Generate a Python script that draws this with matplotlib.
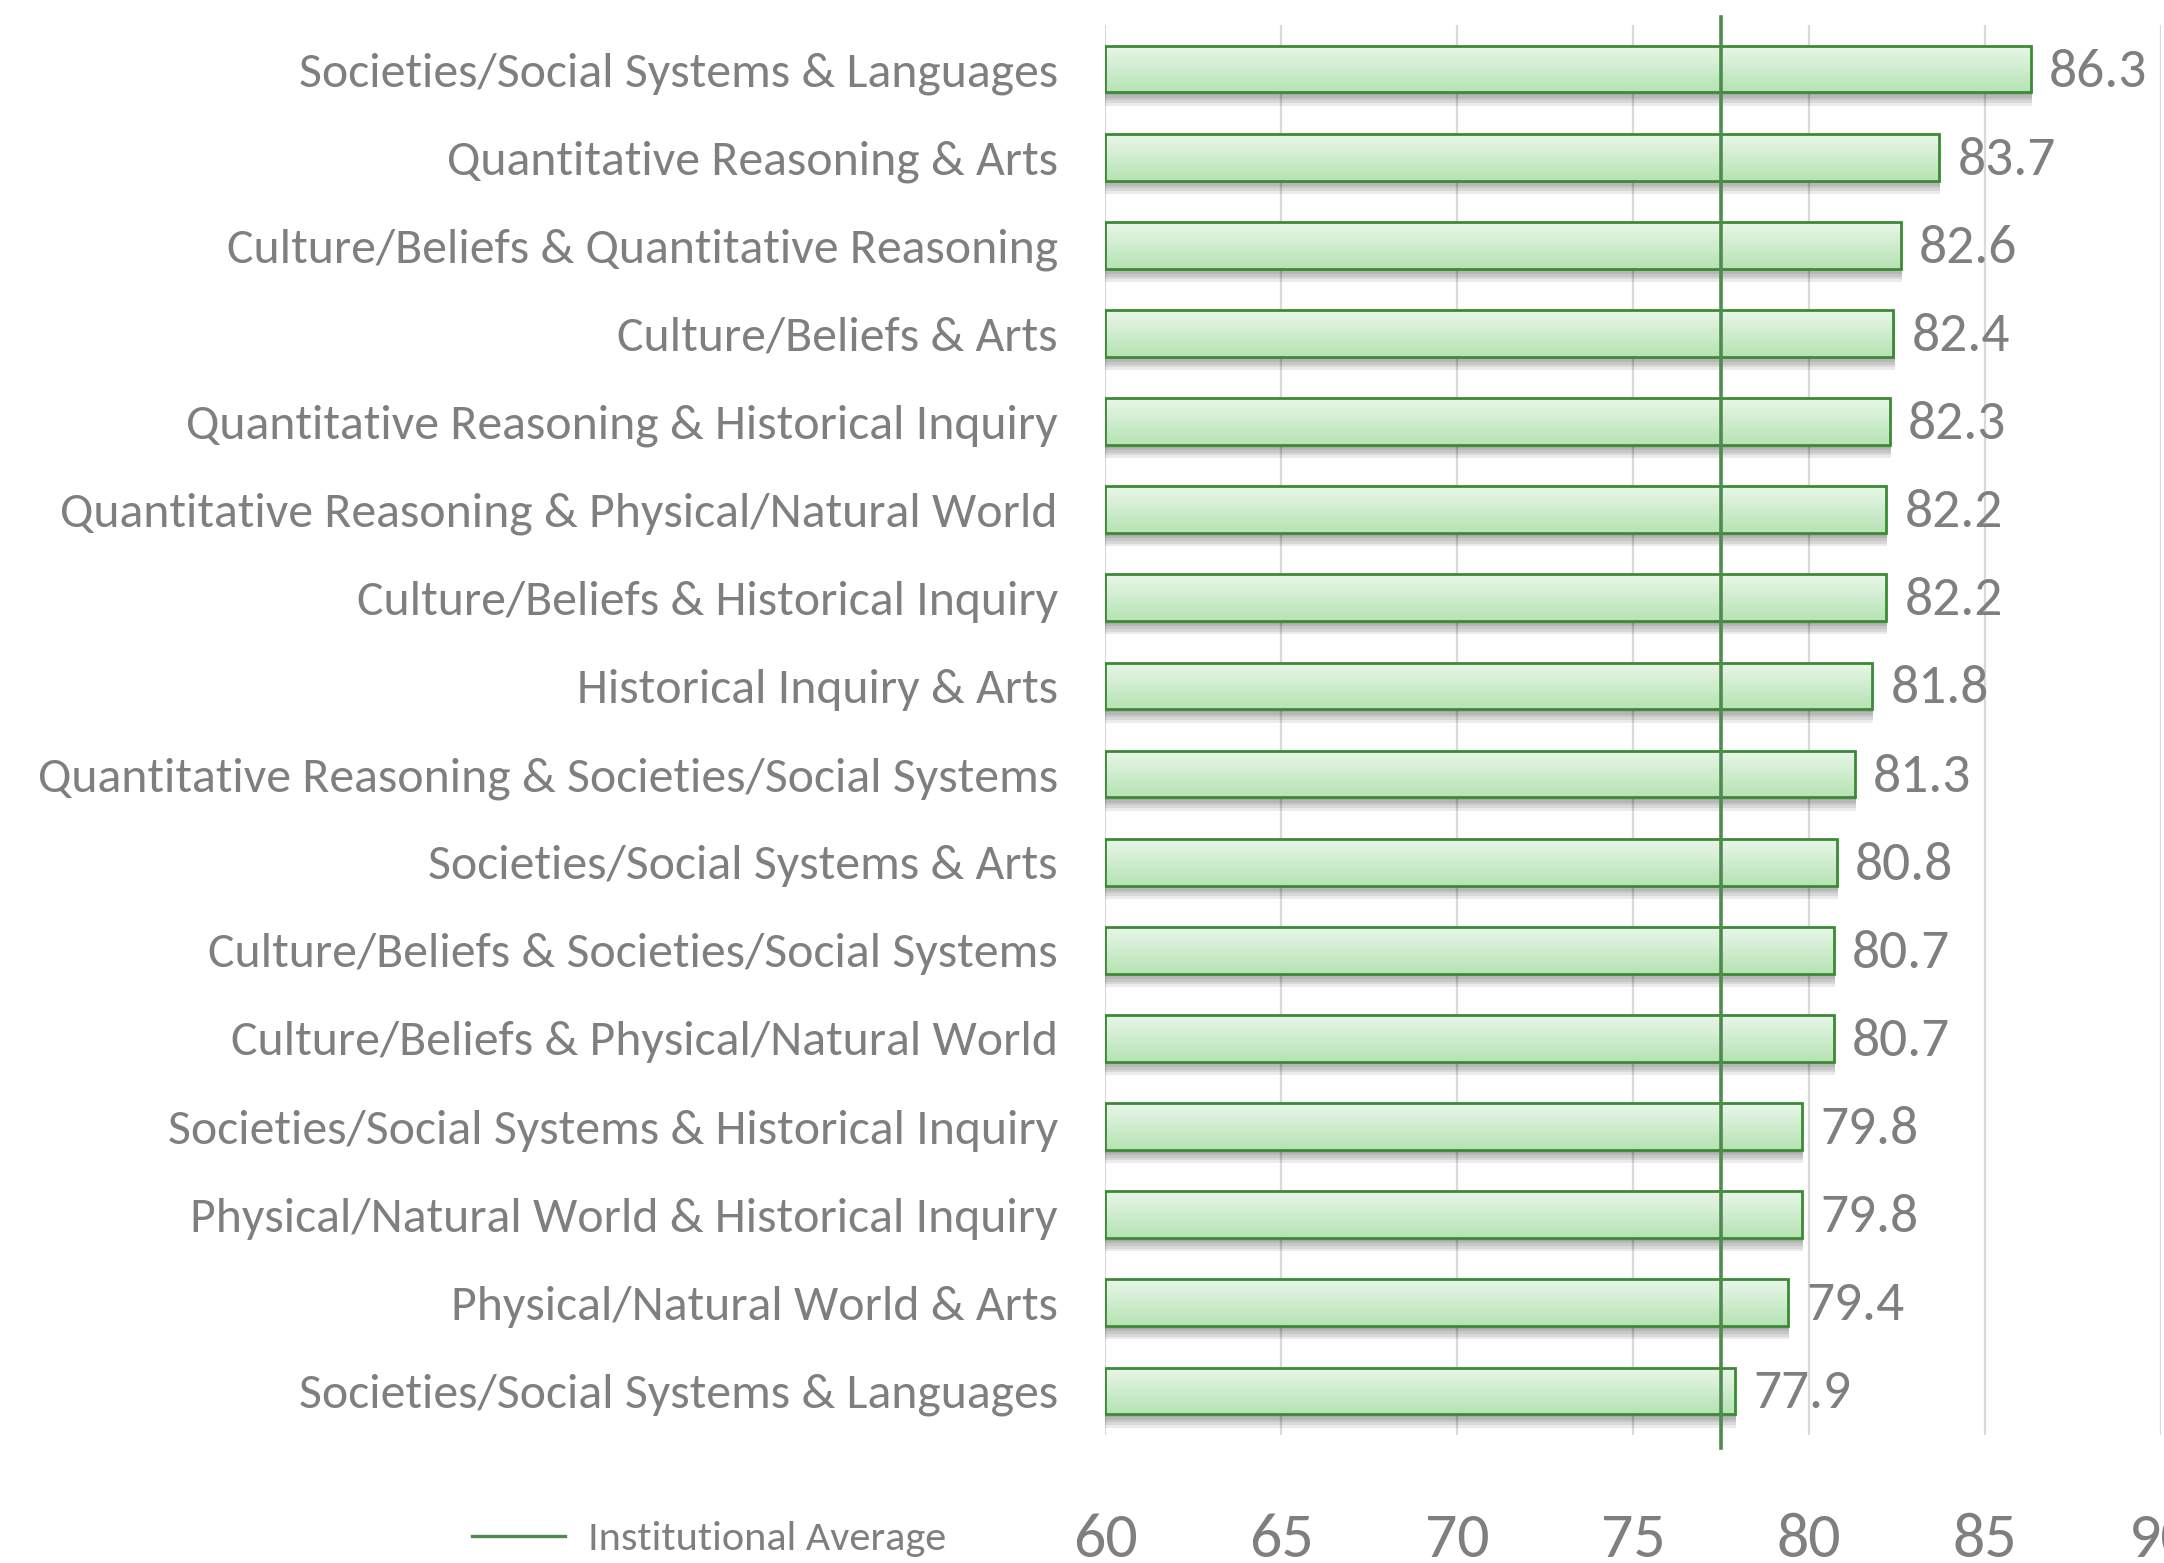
import numpy as np
import matplotlib
matplotlib.use('Agg')
import matplotlib.pyplot as plt
from matplotlib.patches import Rectangle
from matplotlib.lines import Line2D

plt.rcParams['font.family'] = ['Carlito', 'DejaVu Sans']

# data, top to bottom as in the chart
categories = [
    'Societies/Social Systems & Languages',
    'Quantitative Reasoning & Arts',
    'Culture/Beliefs & Quantitative Reasoning',
    'Culture/Beliefs & Arts',
    'Quantitative Reasoning & Historical Inquiry',
    'Quantitative Reasoning & Physical/Natural World',
    'Culture/Beliefs & Historical Inquiry',
    'Historical Inquiry & Arts',
    'Quantitative Reasoning & Societies/Social Systems',
    'Societies/Social Systems & Arts',
    'Culture/Beliefs & Societies/Social Systems',
    'Culture/Beliefs & Physical/Natural World',
    'Societies/Social Systems & Historical Inquiry',
    'Physical/Natural World & Historical Inquiry',
    'Physical/Natural World & Arts',
    'Societies/Social Systems & Languages',
]
scores = [86.3, 83.7, 82.6, 82.4, 82.3, 82.2, 82.2, 81.8,
          81.3, 80.8, 80.7, 80.7, 79.8, 79.8, 79.4, 77.9]
institutional_average = 77.5
x_ticks = [60, 65, 70, 75, 80, 85, 90]

TEXT_GRAY = '#7f7f7f'
EDGE_GREEN = '#3b8b34'
AVG_GREEN = '#4f8a4f'
BAR_HEIGHT = 0.53
XMIN, XMAX = 60, 90
VALUE_SIZE = 20

W, H, DPI = 2164, 1563, 200
fig = plt.figure(figsize=(W / DPI, H / DPI), dpi=DPI)
ax = fig.add_axes([1105 / W, 1 - 1435 / H, (2161 - 1105) / W, (1435 - 25) / H])

ypos = np.arange(len(categories))
gradient = np.linspace(0, 1, 64).reshape(-1, 1)
cmap = matplotlib.colors.LinearSegmentedColormap.from_list(
    'barfill', ['#e9f7e9', '#b6e3b4'])

for y, val in zip(ypos, scores):
    top = y - BAR_HEIGHT / 2
    # soft shadow under the bar
    for k in range(1, 6):
        ax.add_patch(Rectangle((XMIN, top + 0.03 * k), val - XMIN + 0.03, BAR_HEIGHT,
                               facecolor='#000000', alpha=0.08, edgecolor='none',
                               zorder=2))
    fill = Rectangle((XMIN, top), val - XMIN, BAR_HEIGHT, facecolor='white',
                     edgecolor='none', zorder=3)
    ax.add_patch(fill)
    im = ax.imshow(gradient, cmap=cmap, aspect='auto', interpolation='bilinear',
                   extent=(XMIN, val, top + BAR_HEIGHT, top), zorder=3.1)
    im.set_clip_path(fill)
    ax.add_patch(Rectangle((XMIN, top), val - XMIN, BAR_HEIGHT, facecolor='none',
                           edgecolor=EDGE_GREEN, linewidth=1.0, zorder=4))
    ax.annotate('{:.1f}'.format(val), (val, y), xytext=(6.5, -0.316 * VALUE_SIZE),
                textcoords='offset points', va='baseline', ha='left',
                fontsize=VALUE_SIZE, color=TEXT_GRAY, zorder=6)

ax.axvline(institutional_average, ymin=-0.009, ymax=1.0057, color=AVG_GREEN,
           linewidth=1.3, clip_on=False, zorder=5)

ax.set_xlim(XMIN, XMAX)
ax.set_ylim(len(categories) - 0.5, -0.5)
ax.set_xticks(x_ticks)
ax.set_yticks(ypos)
ax.set_yticklabels(categories, fontsize=17.9, color=TEXT_GRAY)
ax.tick_params(axis='y', length=0, pad=17)
ax.tick_params(axis='x', length=0, pad=28, labelsize=23, labelcolor=TEXT_GRAY)
ax.grid(axis='x', color='#d9d9d9', linewidth=0.8, zorder=0)
ax.set_axisbelow(True)
for side in ax.spines.values():
    side.set_visible(False)

handle = Line2D([], [], color=AVG_GREEN, linewidth=1.2)
fig.legend([handle], ['Institutional Average'], loc='center left',
           bbox_to_anchor=(472 / W, 1 - 1539 / H), frameon=False, fontsize=15.2,
           labelcolor=TEXT_GRAY, handlelength=2.2, handletextpad=0.55,
           borderpad=0, borderaxespad=0)

fig.savefig('out.png', dpi=DPI)
